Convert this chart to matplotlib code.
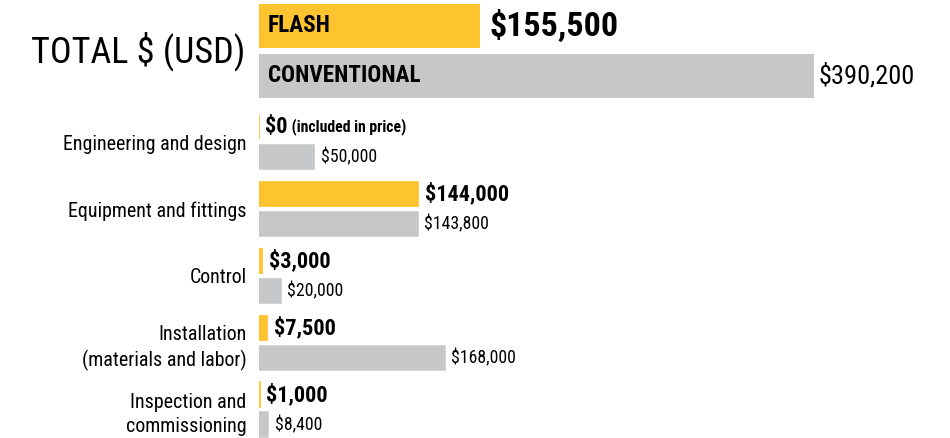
import numpy as np
import matplotlib
matplotlib.use('Agg')
import matplotlib.pyplot as plt

plt.rcParams['font.family'] = ['Roboto Condensed', 'Liberation Sans Narrow', 'Liberation Sans', 'DejaVu Sans']

YELLOW = '#FEC42F'
GRAY = '#C6C7C8'

# totals
total_names = ['FLASH', 'CONVENTIONAL']
total_values = [155500, 390200]

# breakdown
categories = ['Engineering and design', 'Equipment and fittings', 'Control',
              'Installation\n(materials and labor)', 'Inspection and\ncommissioning']
flash_values = [0, 144000, 3000, 7500, 1000]
conv_values = [50000, 143800, 20000, 168000, 8400]
flash_notes = ['(included in price)', '', '', '', '']

W, H = 950, 438
LEFT = 259

fig = plt.figure(figsize=(W/100, H/100), dpi=100)

def clean(ax):
    for s in ax.spines.values():
        s.set_visible(False)
    ax.set_xticks([])
    ax.tick_params(axis='y', length=0)

def money(v):
    return f'${v:,.0f}'

# top panel: totals
ax1 = fig.add_axes([LEFT/W, 1-102/H, 1-LEFT/W, 102/H])
clean(ax1)
ax1.set_xlim(0, 390200*(W-LEFT)/555)
ax1.set_ylim(1.52, -0.52)
ypos = np.arange(len(total_values))
ax1.barh(ypos, total_values, height=0.88, color=[YELLOW, GRAY])
ax1.set_yticks([0.42])
ax1.set_yticklabels(['TOTAL $ (USD)'], fontsize=26)
ax1.tick_params(axis='y', pad=10)
for i, (name, v) in enumerate(zip(total_names, total_values)):
    ax1.annotate(name, (0, i), xytext=(6.5, 0), textcoords='offset points',
                 ha='left', va='center', fontsize=16.7, fontweight='bold')
    if i == 0:
        ax1.annotate(money(v), (v, i), xytext=(6.5, 0), textcoords='offset points',
                     ha='left', va='center', fontsize=24.5, fontweight='bold')
    else:
        ax1.annotate(money(v), (v, i), xytext=(3, 0), textcoords='offset points',
                     ha='left', va='center', fontsize=19)

# bottom panel: breakdown
ax2 = fig.add_axes([LEFT/W, 0, 1-LEFT/W, (H-108)/H])
clean(ax2)
ax2.set_xlim(0, 168000*(W-LEFT)/186)
ax2.set_ylim(4.42, -0.508)
idx = np.arange(len(categories))
off = 0.224
ax2.barh(idx-off, flash_values, height=0.37, color=YELLOW,
         edgecolor=YELLOW, linewidth=1.3)
ax2.barh(idx+off, conv_values, height=0.37, color=GRAY,
         edgecolor=GRAY, linewidth=1.1)
ax2.set_yticks(idx)
ax2.set_yticklabels(categories, fontsize=14.4, linespacing=1.35)
ax2.tick_params(axis='y', pad=9)
for i in idx:
    t = ax2.annotate(money(flash_values[i]), (flash_values[i], i-off), xytext=(4.5, 0),
                     textcoords='offset points', ha='left', va='center',
                     fontsize=16, fontweight='bold')
    if flash_notes[i]:
        ax2.annotate(' ' + flash_notes[i], (1, 0.5), xycoords=t,
                     ha='left', va='center', fontsize=11.3, fontweight='bold')
    ax2.annotate(money(conv_values[i]), (conv_values[i], i+off), xytext=(4.5, 0),
                 textcoords='offset points', ha='left', va='center', fontsize=12.8)

fig.savefig('out.png', dpi=100)
